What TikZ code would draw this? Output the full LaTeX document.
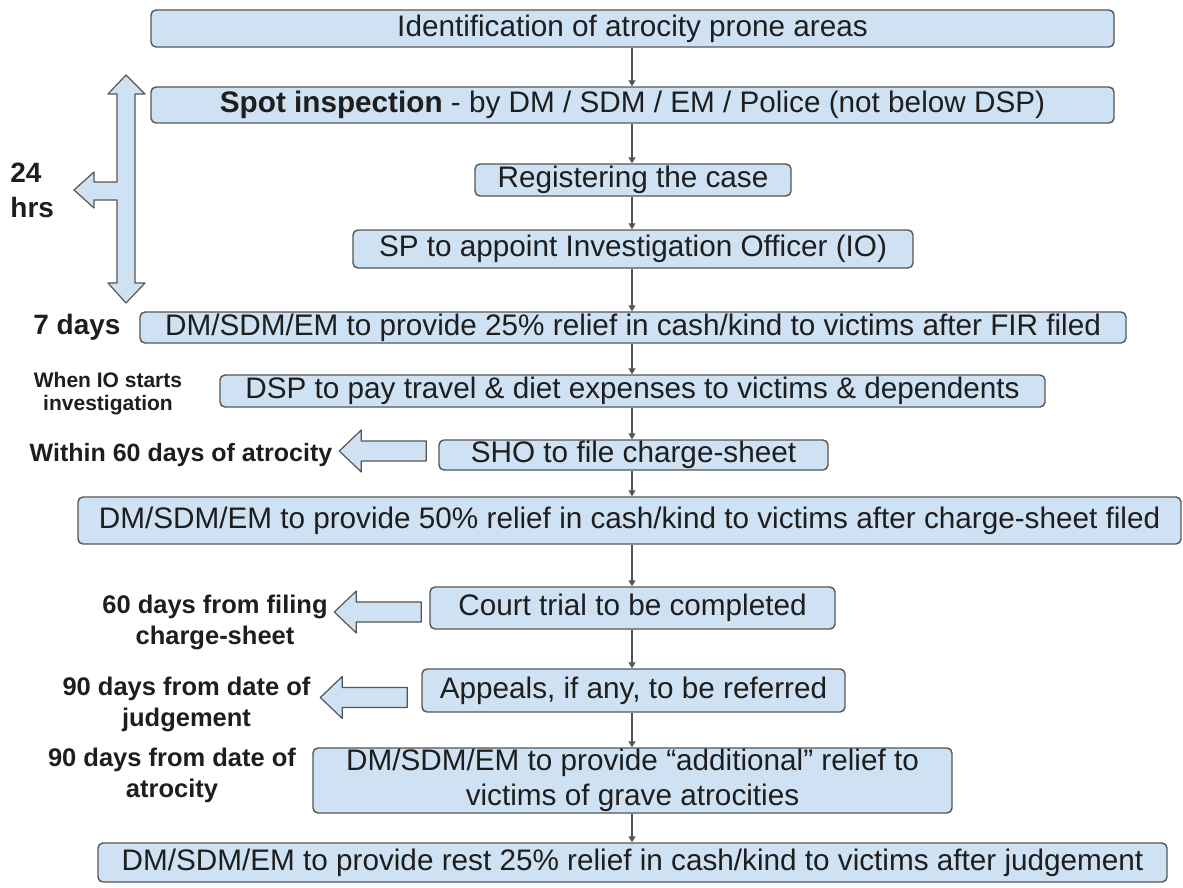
\documentclass[tikz,border=0pt]{standalone}
\usepackage{fontspec}
\setmainfont{Liberation Sans}
\usetikzlibrary{arrows.meta}
\definecolor{boxblue}{HTML}{CFE2F3}
\definecolor{edge}{HTML}{555555}
\definecolor{ink}{HTML}{1E1E1E}
\begin{document}
\begin{tikzpicture}[x=.5pt,y=-.5pt,line join=round,text=ink,
	box/.style={draw=edge,fill=boxblue,rounded corners=2.5pt,line width=.7pt,inner sep=0pt,font=\fontsize{14.85}{17.5}\selectfont},
	flow/.style={draw=edge,line width=.6pt,-{Triangle[length=3pt,width=3.5pt]}},
	hollow/.style={draw=edge,fill=boxblue,line width=.6pt},
	lbl/.style={inner sep=0pt,align=center,font=\bfseries\fontsize{12.75}{15.5}\selectfont}]
	\useasboundingbox (0,0) rectangle (1183,888);
	\path (632,0) coordinate (spine);
	\node[box,minimum width=481.5pt,minimum height=18.5pt] (ident) at (632.5,28.5) {Identification of atrocity prone areas};
	\node[box,minimum width=481.5pt,minimum height=18pt] (spot) at (632.5,105) {\textbf{Spot inspection} - by DM / SDM / EM / Police (not below DSP)};
	\node[box,minimum width=158pt,minimum height=16pt] (reg) at (633,180) {Registering the case};
	\node[box,minimum width=280pt,minimum height=19pt] (io) at (633,249) {SP to appoint Investigation Officer (IO)};
	\node[box,minimum width=493pt,minimum height=15.5pt] (fir) at (633,327.5) {DM/SDM/EM to provide 25\% relief in cash/kind to victims after FIR filed};
	\node[box,minimum width=412.5pt,minimum height=16pt] (dsp) at (632.5,391) {DSP to pay travel \& diet expenses to victims \& dependents};
	\node[box,minimum width=194.5pt,minimum height=15pt] (sho) at (633.5,455) {SHO to file charge-sheet};
	\node[box,minimum width=551.5pt,minimum height=23.5pt] (half) at (629.5,520.5) {DM/SDM/EM to provide 50\% relief in cash/kind to victims after charge-sheet filed};
	\node[box,minimum width=202.5pt,minimum height=21pt] (court) at (632.5,608) {Court trial to be completed};
	\node[box,minimum width=211.5pt,minimum height=21.5pt] (appeal) at (633.5,690.5) {Appeals, if any, to be referred};
	\node[box,minimum width=319.5pt,minimum height=32.5pt,align=center] (extra) at (632.5,780.5) {DM/SDM/EM to provide “additional” relief to\\victims of grave atrocities};
	\node[box,minimum width=534.5pt,minimum height=19.5pt] (rest) at (632.5,862.5) {DM/SDM/EM to provide rest 25\% relief in cash/kind to victims after judgement};
	\foreach \a/\b in {ident/spot,spot/reg,reg/io,io/fir,fir/dsp,dsp/sho,sho/half,half/court,court/appeal,appeal/extra,extra/rest}
		\draw[flow] (\a.south -| spine) -- (\b.north -| spine);
	\node[lbl,anchor=west,align=left,font=\bfseries\fontsize{14}{17.5}\selectfont] (hrs) at (10,190) {24\\hrs};
	\node[lbl,font=\bfseries\fontsize{14}{17}\selectfont] (week) at (77,327) {7 days};
	\node[lbl,font=\bfseries\fontsize{10.5}{11.5}\selectfont] (start) at (108,393.5) {When IO starts\\investigation};
	\node[lbl,font=\bfseries\fontsize{12.5}{15}\selectfont] (sixty) at (181,455) {Within 60 days of atrocity};
	\node[lbl] (trial) at (215,622) {60 days from filing\\charge-sheet};
	\node[lbl] (judge) at (186.5,704) {90 days from date of\\judgement};
	\node[lbl] (grave) at (172,775) {90 days from date of\\atrocity};
	\draw[hollow] (126,75) -- (145,94) -- (135,94) -- (135,283) -- (145,283) -- (126,303) -- (108,283) -- (117,283)
		-- (117,200) -- (94,200) -- (94,208) -- (74,190) -- (94,172) -- (94,182) -- (117,182) -- (117,94) -- (108,94) -- cycle;
	\foreach \b/\dx/\dy in {sho/12/-4,court/8/4,appeal/14/7}
		\draw[hollow] (\b.west) ++({-\dx},{\dy-10}) -- ++(-65,0) -- ++(0,-11) -- ++(-22,21) -- ++(22,21) -- ++(0,-11) -- ++(65,0) -- cycle;
\end{tikzpicture}
\end{document}
